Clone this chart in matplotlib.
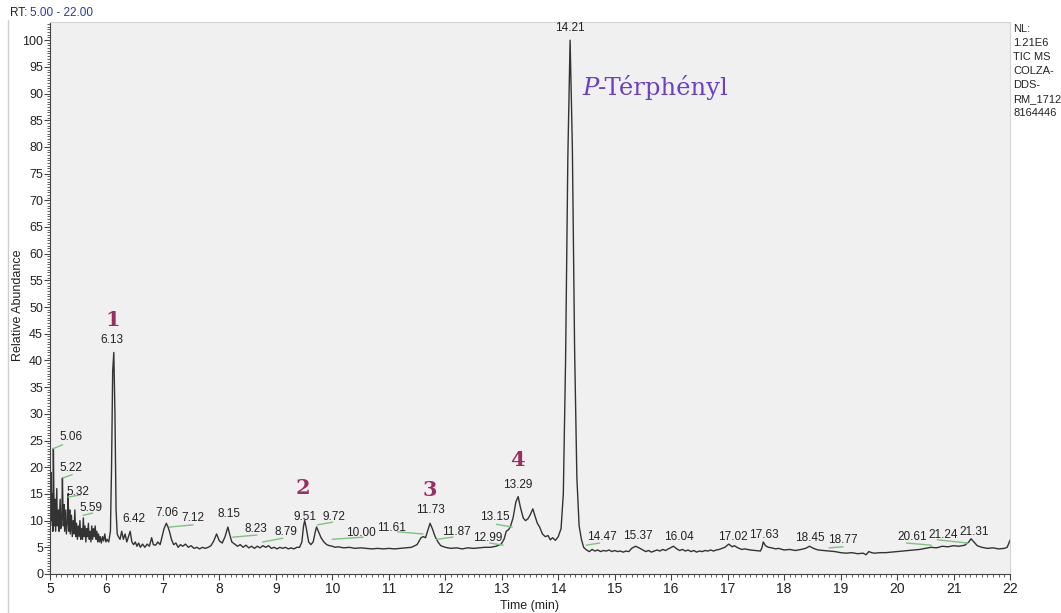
import matplotlib.pyplot as plt
from matplotlib.lines import Line2D
from matplotlib.ticker import MultipleLocator

plt.rcParams['font.family'] = ['Liberation Sans Narrow', 'Liberation Sans', 'DejaVu Sans']

# TIC trace: retention time (min) / relative abundance (%)
rt = [5.00, 5.01, 5.02, 5.03, 5.04, 5.05, 5.06, 5.075, 5.09, 5.10, 5.12, 5.13, 5.15, 5.16,
      5.18, 5.19, 5.21, 5.22, 5.235, 5.25, 5.26, 5.28, 5.29, 5.31, 5.32, 5.335, 5.35, 5.36,
      5.38, 5.395, 5.41, 5.425, 5.44, 5.455, 5.47, 5.485, 5.50, 5.515, 5.53, 5.545, 5.56,
      5.575, 5.59, 5.605, 5.62, 5.635, 5.65, 5.665, 5.68, 5.695, 5.71, 5.725, 5.74, 5.755,
      5.77, 5.785, 5.80, 5.815, 5.83, 5.845, 5.86, 5.875, 5.89, 5.91, 5.93, 5.95, 5.97, 5.99,
      6.01, 6.04, 6.07, 6.09, 6.11, 6.13, 6.15, 6.17, 6.19, 6.21, 6.24, 6.27, 6.30, 6.33,
      6.36, 6.39, 6.42, 6.45, 6.48, 6.51, 6.54, 6.57, 6.60, 6.64, 6.68, 6.72, 6.76, 6.80,
      6.83, 6.87, 6.91, 6.95, 6.98, 7.02, 7.06, 7.09, 7.12, 7.15, 7.19, 7.23, 7.27, 7.31,
      7.35, 7.40, 7.45, 7.50, 7.55, 7.60, 7.65, 7.70, 7.75, 7.80, 7.85, 7.90, 7.95, 8.00,
      8.05, 8.10, 8.15, 8.18, 8.22, 8.27, 8.32, 8.37, 8.42, 8.47, 8.52, 8.57, 8.62, 8.67,
      8.72, 8.77, 8.82, 8.87, 8.92, 8.97, 9.02, 9.07, 9.12, 9.17, 9.22, 9.27, 9.32, 9.37,
      9.42, 9.46, 9.49, 9.51, 9.54, 9.58, 9.62, 9.66, 9.70, 9.72, 9.76, 9.80, 9.85, 9.90,
      9.95, 10.00, 10.05, 10.1, 10.2, 10.3, 10.4, 10.5, 10.6, 10.7, 10.8, 10.9, 11.0, 11.1,
      11.2, 11.3, 11.4, 11.5, 11.57, 11.61, 11.65, 11.70, 11.73, 11.77, 11.82, 11.87, 11.92,
      12.0, 12.1, 12.2, 12.3, 12.4, 12.5, 12.6, 12.7, 12.8, 12.9, 12.99, 13.04, 13.08, 13.12,
      13.15, 13.2, 13.25, 13.29, 13.33, 13.38, 13.42, 13.46, 13.50, 13.55, 13.59, 13.63,
      13.67, 13.72, 13.77, 13.82, 13.86, 13.90, 13.95, 14.0, 14.05, 14.09, 14.13, 14.17,
      14.21, 14.25, 14.29, 14.33, 14.37, 14.41, 14.45, 14.5, 14.55, 14.6, 14.65, 14.7, 14.75,
      14.8, 14.85, 14.9, 14.95, 15.0, 15.05, 15.1, 15.15, 15.2, 15.25, 15.3, 15.37, 15.43,
      15.5, 15.55, 15.6, 15.65, 15.7, 15.75, 15.8, 15.85, 15.9, 15.95, 16.04, 16.1, 16.15,
      16.2, 16.25, 16.3, 16.35, 16.4, 16.45, 16.5, 16.55, 16.6, 16.65, 16.7, 16.75, 16.8,
      16.85, 16.9, 16.95, 17.02, 17.08, 17.12, 17.18, 17.25, 17.3, 17.4, 17.5, 17.58, 17.61,
      17.63, 17.67, 17.72, 17.78, 17.85, 17.9, 18.0, 18.1, 18.2, 18.3, 18.38, 18.45, 18.52,
      18.6, 18.7, 18.8, 18.9, 19.0, 19.1, 19.2, 19.3, 19.4, 19.45, 19.5, 19.55, 19.6, 19.7,
      19.8, 19.9, 20.0, 20.1, 20.2, 20.3, 20.4, 20.5, 20.6, 20.7, 20.8, 20.9, 21.0, 21.1,
      21.2, 21.27, 21.31, 21.36, 21.42, 21.5, 21.6, 21.7, 21.8, 21.9, 21.95, 22.0]
abundance = [16, 9, 19, 10, 15, 8, 23.5, 9, 14, 8, 16, 9, 12, 8,
             14, 8.5, 11, 18, 9, 13, 8, 12, 7.5, 10, 15, 8, 12, 7.5,
             11, 7, 10, 7.5, 12, 7, 9.5, 6.5, 9, 7, 10, 6.5, 8.5,
             6.5, 10.5, 7, 9, 6, 8.5, 7, 9.5, 6.5, 8, 6, 9, 6.5,
             8.5, 7, 9, 6.5, 8, 6, 7.5, 6, 7, 5.8, 7, 6.2, 7.5, 6,
             6.5, 6.0, 8, 20, 38, 41.5, 30, 12, 7.5, 7, 6.5, 8, 6.5, 7.5,
             6, 7, 8, 6, 5.5, 6, 5.2, 5.8, 5, 5.6, 5.0, 5.6, 5.2, 6.8,
             5.5, 5.4, 6.0, 5.5, 6.8, 8.5, 9.5, 8.8, 7.8, 6.5, 5.5, 5.8, 5.0, 5.5,
             5.2, 5.6, 5.0, 5.3, 4.8, 5.0, 4.7, 5.0, 4.8, 5.0, 5.3, 6.2, 7.5, 6.2,
             5.8, 7.0, 8.8, 7.5, 6.0, 5.6, 5.2, 5.5, 5.0, 5.4, 4.9, 5.2, 4.8, 5.2,
             4.9, 5.3, 5.0, 5.3, 4.8, 5.0, 4.7, 5.0, 4.8, 5.0, 4.7, 4.9, 4.7, 5.0,
             5.0, 6.0, 9.0, 10.0, 8.5, 6.0, 5.5, 6.0, 8.0, 8.8, 7.8, 6.8, 6.0, 5.5,
             5.3, 5.2, 5.0, 5.1, 4.9, 5.0, 4.8, 4.9, 4.8, 4.7, 4.8, 4.7, 4.8, 4.7,
             4.8, 4.9, 5.0, 5.5, 6.8, 7.0, 6.8, 8.5, 9.5, 8.5, 7.0, 6.0, 5.3,
             5.0, 4.8, 4.9, 4.7, 4.9, 4.8, 4.9, 5.0, 5.0, 5.2, 5.6, 6.5, 8.0, 8.3,
             8.8, 10.5, 13.5, 14.5, 12.5, 10.5, 10.0, 10.3, 11.0, 12.2, 10.8, 9.5,
             8.8, 7.5, 7.0, 7.2, 6.4, 6.8, 6.3, 7.0, 8.5, 15, 40, 78,
             100, 80, 42, 18, 9, 6.5, 5.0, 4.5, 4.2, 4.6, 4.3, 4.5, 4.2,
             4.4, 4.3, 4.5, 4.2, 4.4, 4.2, 4.3, 4.1, 4.3, 4.2, 4.8, 5.2, 4.9,
             4.5, 4.2, 4.4, 4.1, 4.3, 4.5, 4.3, 4.6, 4.4, 4.7, 5.2, 4.7, 4.4,
             4.6, 4.3, 4.5, 4.2, 4.4, 4.1, 4.3, 4.2, 4.4, 4.3, 4.5, 4.3, 4.5,
             4.6, 4.8, 5.0, 5.6, 5.1, 5.3, 4.9, 4.6, 4.7, 4.5, 4.4, 4.3, 5.0,
             6.0, 5.3, 5.0, 4.9, 4.7, 4.8, 4.5, 4.6, 4.4, 4.6, 4.8, 5.2, 4.8,
             4.5, 4.4, 4.3, 4.2, 4.0, 3.9, 4.0, 3.8, 3.9, 3.6, 4.2, 4.0, 3.9, 4.0,
             4.0, 4.1, 4.2, 4.3, 4.4, 4.5, 4.6, 4.8, 5.0, 4.9, 5.2, 5.1, 5.3, 5.2,
             5.4, 6.0, 6.6, 6.0, 5.3, 5.0, 4.8, 4.9, 4.7, 4.8, 5.0, 6.3]

# retention-time labels and where they sit (rt, abundance)
peak_labels = ['5.06', '5.22', '5.32', '5.59', '6.13', '6.42', '7.06', '7.12', '8.15', '8.23',
               '8.79', '9.51', '9.72', '10.00', '11.61', '11.73', '11.87', '12.99', '13.15',
               '13.29', '14.21', '14.47', '15.37', '16.04', '17.02', '17.63', '18.45', '18.77',
               '20.61', '21.24', '21.31']
label_rt = [5.37, 5.37, 5.49, 5.72, 6.10, 6.49, 7.07, 7.53, 8.17, 8.65,
            9.18, 9.51, 10.03, 10.50, 11.05, 11.74, 12.19, 12.75, 12.88,
            13.28, 14.20, 14.77, 15.41, 16.13, 17.09, 17.65, 18.45, 19.04,
            20.27, 20.82, 21.36]
label_ab = [25.7, 19.9, 15.4, 12.4, 43.8, 10.3, 11.4, 10.5, 11.2, 8.4,
            7.9, 10.7, 10.7, 7.7, 8.6, 12.0, 7.9, 6.7, 10.7,
            16.7, 102.2, 7.0, 7.1, 7.0, 7.0, 7.3, 6.7, 6.4,
            7.0, 7.3, 7.9]

# integration baselines (start rt, end rt, start level, end level)
base_start = [5.06, 5.23, 5.32, 5.59, 7.12, 8.24, 8.77, 9.74, 10.00, 11.16, 11.85, 12.79, 12.91, 14.50, 18.80, 20.17, 20.72]
base_end = [5.22, 5.39, 5.53, 5.75, 7.53, 8.66, 9.12, 10.00, 10.54, 11.60, 12.13, 13.02, 13.18, 14.73, 19.04, 20.60, 21.25]
base_lo = [23.5, 18.0, 14.4, 11.0, 8.8, 6.9, 6.0, 9.2, 6.5, 7.9, 6.5, 5.8, 9.3, 5.4, 4.9, 5.8, 6.4]
base_hi = [24.2, 18.6, 14.8, 11.4, 9.2, 7.3, 6.7, 9.7, 6.9, 7.5, 6.9, 5.4, 8.8, 5.8, 5.1, 5.4, 5.8]

compounds = ['1', '2', '3', '4']
compound_rt = [6.12, 9.48, 11.73, 13.28]
compound_ab = [47.6, 16.1, 15.7, 21.3]

fig = plt.figure(figsize=(10.61, 6.13), dpi=100)
ax = fig.add_axes([50 / 1061, 1 - 574 / 613, 960 / 1061, 552 / 613])
ax.set_facecolor('#f0f0f0')

ax.plot(rt, abundance, color='#333333', lw=1.0)
for x0, x1, y0, y1 in zip(base_start, base_end, base_lo, base_hi):
    ax.plot([x0, x1], [y0, y1], color='#7cc47c', lw=1.0)

for lab, x, y in zip(peak_labels, label_rt, label_ab):
    ax.text(x, y, lab, ha='center', va='center', fontsize=8.5, color='#222222')

for lab, x, y in zip(compounds, compound_rt, compound_ab):
    ax.text(x, y, lab, ha='center', va='center', fontsize=15, fontweight='bold',
            family='DejaVu Serif', color='#9b2d5f')

t1 = ax.text(14.42, 91, 'P', ha='left', va='center', fontsize=17.5, style='italic',
             family='DejaVu Serif', color='#6a40c4')
ax.annotate('-Térphényl', xy=(1, 0), xycoords=t1, va='bottom', ha='left', fontsize=17.5,
            family='DejaVu Serif', color='#6a40c4')

ax.set_xlim(5, 22)
ax.set_ylim(0, 103.4)
ax.xaxis.set_major_locator(MultipleLocator(1))
ax.xaxis.set_minor_locator(MultipleLocator(0.1))
ax.yaxis.set_major_locator(MultipleLocator(5))
ax.yaxis.set_minor_locator(MultipleLocator(0.5))
ax.tick_params(axis='both', which='major', length=4, width=0.8, color='#444444', labelcolor='#222222')
ax.tick_params(axis='both', which='minor', length=2, width=0.6, color='#444444')
ax.tick_params(axis='x', labelsize=10, pad=2)
ax.tick_params(axis='y', labelsize=9, pad=1)
for s in ['left', 'bottom']:
    ax.spines[s].set_color('#444444')
for s in ['top', 'right']:
    ax.spines[s].set_color('#d4d4d4')

ax.set_xlabel('Time (min)', fontsize=9, color='#222222', labelpad=3)
fig.text(18 / 1061, 1 - 305 / 613, 'Relative Abundance', rotation=90, fontsize=9,
         ha='center', va='center', color='#222222')

fig.text(10 / 1061, 1 - 13 / 613, 'RT:', fontsize=8.5, va='center', ha='left', color='#222222')
fig.text(30 / 1061, 1 - 13 / 613, '5.00 - 22.00', fontsize=8.5, va='center', ha='left', color='#2a3a9a')
fig.text(1013 / 1061, 1 - 24 / 613, 'NL:\n1.21E6\nTIC MS\nCOLZA-\nDDS-\nRM_1712\n8164446',
         fontsize=8, va='top', ha='left', linespacing=1.5, color='#222222')
fig.add_artist(Line2D([8 / 1061, 8 / 1061], [0, 1 - 20 / 613], color='#cfcfcf', lw=1))

fig.savefig('out.png', dpi=100)
